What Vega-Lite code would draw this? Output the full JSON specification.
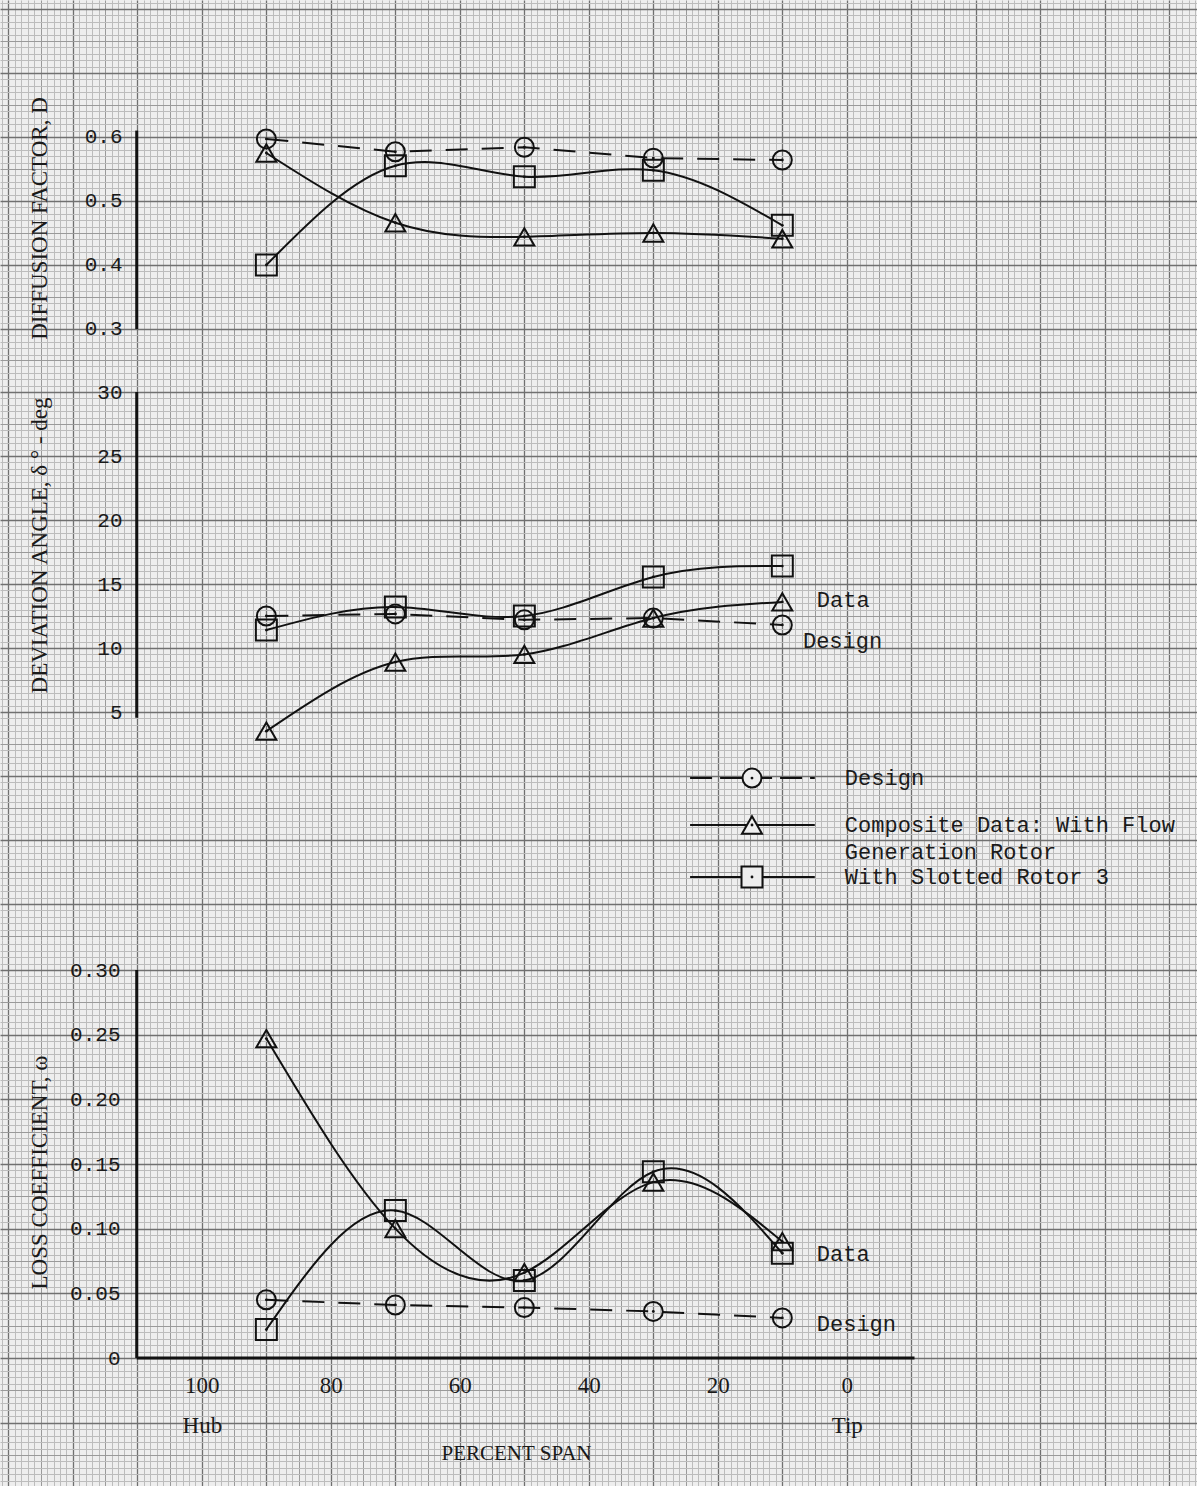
{
  "$schema": "https://vega.github.io/schema/vega-lite/v6.json",
  "padding": 0,
  "autosize": {"type": "pad"},
  "background": "#eeeeee",
  "spacing": 0,
  "bounds": "flush",
  "config": {
    "view": {"stroke": null},
    "axis": {"domain": false, "ticks": false, "tickSize": 0, "labelFont": "Liberation Mono", "labelColor": "#1a1a1a", "titleFont": "Liberation Serif", "titleFontSize": 23, "titleFontWeight": "normal", "titleColor": "#1a1a1a", "labelOverlap": false, "labelFlush": false, "gridOpacity": 1},
    "text": {"font": "Liberation Mono", "fontSize": 22, "color": "#1a1a1a"}
  },
  "datasets": {
    "pts": [
      {"panel": "D", "series": "Design", "span": 90, "value": 0.597},
      {"panel": "D", "series": "Design", "span": 70, "value": 0.577},
      {"panel": "D", "series": "Design", "span": 50, "value": 0.584},
      {"panel": "D", "series": "Design", "span": 30, "value": 0.567},
      {"panel": "D", "series": "Design", "span": 10, "value": 0.564},
      {"panel": "D", "series": "Composite", "span": 90, "value": 0.575},
      {"panel": "D", "series": "Composite", "span": 70, "value": 0.466},
      {"panel": "D", "series": "Composite", "span": 50, "value": 0.444},
      {"panel": "D", "series": "Composite", "span": 30, "value": 0.450},
      {"panel": "D", "series": "Composite", "span": 10, "value": 0.441},
      {"panel": "D", "series": "Slotted", "span": 90, "value": 0.400},
      {"panel": "D", "series": "Slotted", "span": 70, "value": 0.555},
      {"panel": "D", "series": "Slotted", "span": 50, "value": 0.538},
      {"panel": "D", "series": "Slotted", "span": 30, "value": 0.548},
      {"panel": "D", "series": "Slotted", "span": 10, "value": 0.462},
      {"panel": "dev", "series": "Design", "span": 90, "value": 12.5},
      {"panel": "dev", "series": "Design", "span": 70, "value": 12.66},
      {"panel": "dev", "series": "Design", "span": 50, "value": 12.2},
      {"panel": "dev", "series": "Design", "span": 30, "value": 12.34},
      {"panel": "dev", "series": "Design", "span": 10, "value": 11.8},
      {"panel": "dev", "series": "Composite", "span": 90, "value": 3.5},
      {"panel": "dev", "series": "Composite", "span": 70, "value": 8.9},
      {"panel": "dev", "series": "Composite", "span": 50, "value": 9.5},
      {"panel": "dev", "series": "Composite", "span": 30, "value": 12.34},
      {"panel": "dev", "series": "Composite", "span": 10, "value": 13.6},
      {"panel": "dev", "series": "Slotted", "span": 90, "value": 11.4},
      {"panel": "dev", "series": "Slotted", "span": 70, "value": 13.2},
      {"panel": "dev", "series": "Slotted", "span": 50, "value": 12.5},
      {"panel": "dev", "series": "Slotted", "span": 30, "value": 15.55},
      {"panel": "dev", "series": "Slotted", "span": 10, "value": 16.4},
      {"panel": "loss", "series": "Design", "span": 90, "value": 0.045},
      {"panel": "loss", "series": "Design", "span": 70, "value": 0.041},
      {"panel": "loss", "series": "Design", "span": 50, "value": 0.039},
      {"panel": "loss", "series": "Design", "span": 30, "value": 0.036},
      {"panel": "loss", "series": "Design", "span": 10, "value": 0.031},
      {"panel": "loss", "series": "Composite", "span": 90, "value": 0.247},
      {"panel": "loss", "series": "Composite", "span": 70, "value": 0.100},
      {"panel": "loss", "series": "Composite", "span": 50, "value": 0.066},
      {"panel": "loss", "series": "Composite", "span": 30, "value": 0.136},
      {"panel": "loss", "series": "Composite", "span": 10, "value": 0.090},
      {"panel": "loss", "series": "Slotted", "span": 90, "value": 0.022},
      {"panel": "loss", "series": "Slotted", "span": 70, "value": 0.114},
      {"panel": "loss", "series": "Slotted", "span": 50, "value": 0.060},
      {"panel": "loss", "series": "Slotted", "span": 30, "value": 0.144},
      {"panel": "loss", "series": "Slotted", "span": 10, "value": 0.081}
    ]
  },
  "vconcat": [
    {
      "width": 1197,
      "height": 360,
      "data": {"name": "pts"},
      "encoding": {
        "x": {"field": "span", "type": "quantitative", "scale": {"domain": [-54.3, 131.3], "reverse": true, "nice": false, "zero": false},
          "axis": {"title": null, "labels": false, "tickCount": 185, "grid": true,
            "gridColor": {"condition": [{"test": "datum.value % 10 === 0", "value": "#707070"}, {"test": "datum.value % 5 === 0", "value": "#9a9a9a"}], "value": "#bcbcbc"},
            "gridWidth": {"condition": {"test": "datum.value % 10 === 0", "value": 1.3}, "value": 1}}},
        "y": {"field": "value", "type": "quantitative", "scale": {"domain": [0.25156, 0.81406], "nice": false, "zero": false},
          "axis": {"offset": -137, "labelPadding": 15, "tickCount": 56,
            "labelExpr": "datum.value > 0.295 && datum.value < 0.605 && round(datum.value*100) % 10 === 0 ? format(datum.value, '.1f') : ''",
            "labelFontSize": {"condition": {"test": "datum.value > 0.295 && datum.value < 0.605 && round(datum.value*100) % 10 === 0", "value": 21}, "value": 0},
            "grid": true,
            "gridColor": {"condition": [{"test": "round(datum.value*100) % 10 === 0", "value": "#707070"}, {"test": "round(datum.value*100) % 5 === 0", "value": "#9a9a9a"}], "value": "#bcbcbc"},
            "gridWidth": {"condition": {"test": "round(datum.value*100) % 10 === 0", "value": 1.3}, "value": 1},
            "title": "DIFFUSION FACTOR, D", "titleX": -91, "titleY": 218, "titleAngle": 270, "titleAlign": "center", "titleBaseline": "alphabetic"}}
      },
      "layer": [
        {"transform": [{"filter": "datum.panel === 'D' && datum.series === 'Design'"}], "mark": {"type": "line", "strokeDash": [22, 14], "strokeWidth": 2, "color": "#111"}},
        {"transform": [{"filter": "datum.panel === 'D' && datum.series !== 'Design'"}], "mark": {"type": "line", "interpolate": "natural", "strokeWidth": 2, "color": "#111"}, "encoding": {"detail": {"field": "series"}}},
        {"transform": [{"filter": "datum.panel === 'D'"}], "mark": {"type": "point", "filled": false, "strokeWidth": 2, "color": "#111", "opacity": 1},
          "encoding": {"shape": {"field": "series", "type": "nominal", "scale": {"domain": ["Design", "Composite", "Slotted"], "range": ["circle", "triangle-up", "square"]}, "legend": null},
            "size": {"field": "series", "type": "nominal", "scale": {"domain": ["Design", "Composite", "Slotted"], "range": [360, 440, 340]}, "legend": null}}},
        {"transform": [{"filter": "datum.panel === 'D'"}], "mark": {"type": "point", "filled": true, "size": 8, "color": "#111", "shape": "circle", "opacity": 1}},
        {"data": {"values": [{"span": 110.1, "value": 0.3, "value2": 0.61}]}, "mark": {"type": "rule", "strokeWidth": 3, "color": "#111"}, "encoding": {"y2": {"field": "value2"}}}
      ]
    },
    {
      "width": 1197,
      "height": 580,
      "data": {"name": "pts"},
      "encoding": {
        "x": {"field": "span", "type": "quantitative", "scale": {"domain": [-54.3, 131.3], "reverse": true, "nice": false, "zero": false},
          "axis": {"title": null, "labels": false, "tickCount": 185, "grid": true,
            "gridColor": {"condition": [{"test": "datum.value % 10 === 0", "value": "#707070"}, {"test": "datum.value % 5 === 0", "value": "#9a9a9a"}], "value": "#bcbcbc"},
            "gridWidth": {"condition": {"test": "datum.value % 10 === 0", "value": 1.3}, "value": 1}}},
        "y": {"field": "value", "type": "quantitative", "scale": {"domain": [-12.8125, 32.5], "nice": false, "zero": false},
          "axis": {"offset": -137, "labelPadding": 15, "tickCount": 90,
            "labelExpr": "datum.value >= 5 && datum.value <= 30 && datum.value % 5 === 0 ? format(datum.value, 'd') : ''",
            "labelFontSize": {"condition": {"test": "datum.value >= 5 && datum.value <= 30 && datum.value % 5 === 0", "value": 21}, "value": 0},
            "grid": true,
            "gridColor": {"condition": [{"test": "datum.value % 5 === 0", "value": "#707070"}, {"test": "(datum.value*2) % 5 === 0", "value": "#9a9a9a"}], "value": "#bcbcbc"},
            "gridWidth": {"condition": {"test": "datum.value % 5 === 0", "value": 1.3}, "value": 1},
            "title": "DEVIATION ANGLE, δ ° - deg", "titleX": -91, "titleY": 185, "titleAngle": 270, "titleAlign": "center", "titleBaseline": "alphabetic"}}
      },
      "layer": [
        {"transform": [{"filter": "datum.panel === 'dev' && datum.series === 'Design'"}], "mark": {"type": "line", "strokeDash": [22, 14], "strokeWidth": 2, "color": "#111"}},
        {"transform": [{"filter": "datum.panel === 'dev' && datum.series !== 'Design'"}], "mark": {"type": "line", "interpolate": "natural", "strokeWidth": 2, "color": "#111"}, "encoding": {"detail": {"field": "series"}}},
        {"transform": [{"filter": "datum.panel === 'dev'"}], "mark": {"type": "point", "filled": false, "strokeWidth": 2, "color": "#111", "opacity": 1},
          "encoding": {"shape": {"field": "series", "type": "nominal", "scale": {"domain": ["Design", "Composite", "Slotted"], "range": ["circle", "triangle-up", "square"]}, "legend": null},
            "size": {"field": "series", "type": "nominal", "scale": {"domain": ["Design", "Composite", "Slotted"], "range": [360, 440, 340]}, "legend": null}}},
        {"transform": [{"filter": "datum.panel === 'dev'"}], "mark": {"type": "point", "filled": true, "size": 8, "color": "#111", "shape": "circle", "opacity": 1}},
        {"data": {"values": [{"span": 110.1, "value": 4.55, "value2": 30}]}, "mark": {"type": "rule", "strokeWidth": 3, "color": "#111"}, "encoding": {"y2": {"field": "value2"}}},
        {"data": {"values": [{"span": 4.65, "value": 13.75, "label": "Data"}, {"span": 6.8, "value": 10.55, "label": "Design"}]},
          "mark": {"type": "text", "align": "left", "baseline": "middle"}, "encoding": {"text": {"field": "label"}}},
        {"data": {"values": [
            {"series": "Design", "span": 24.3, "span2": 4.96, "value": -0.16},
            {"series": "Composite", "span": 24.3, "span2": 4.96, "value": -3.83},
            {"series": "Slotted", "span": 24.3, "span2": 4.96, "value": -7.89}]},
          "mark": {"type": "rule", "strokeWidth": 2, "color": "#111"},
          "encoding": {"x2": {"field": "span2"}, "strokeDash": {"field": "series", "type": "nominal", "scale": {"domain": ["Design", "Composite", "Slotted"], "range": [[22, 8], [1, 0], [1, 0]]}, "legend": null}}},
        {"data": {"values": [
            {"series": "Design", "span": 14.7, "value": -0.16},
            {"series": "Composite", "span": 14.7, "value": -3.83},
            {"series": "Slotted", "span": 14.7, "value": -7.89}]},
          "mark": {"type": "point", "filled": true, "fill": "#eeeeee", "stroke": "#111", "strokeWidth": 2, "opacity": 1},
          "encoding": {"shape": {"field": "series", "type": "nominal", "scale": {"domain": ["Design", "Composite", "Slotted"], "range": ["circle", "triangle-up", "square"]}, "legend": null},
            "size": {"field": "series", "type": "nominal", "scale": {"domain": ["Design", "Composite", "Slotted"], "range": [360, 440, 340]}, "legend": null}}},
        {"data": {"values": [
            {"series": "Design", "span": 14.7, "value": -0.16},
            {"series": "Composite", "span": 14.7, "value": -3.83},
            {"series": "Slotted", "span": 14.7, "value": -7.89}]},
          "mark": {"type": "point", "filled": true, "size": 8, "color": "#111", "shape": "circle", "opacity": 1}},
        {"data": {"values": [
            {"span": 0.3, "value": -0.16, "label": "Design"},
            {"span": 0.3, "value": -3.83, "label": "Composite Data: With Flow"},
            {"span": 0.3, "value": -5.94, "label": "Generation Rotor"},
            {"span": 0.3, "value": -7.89, "label": "With Slotted Rotor 3"}]},
          "mark": {"type": "text", "align": "left", "baseline": "middle"}, "encoding": {"text": {"field": "label"}}}
      ]
    },
    {
      "width": 1197,
      "height": 546,
      "data": {"name": "pts"},
      "encoding": {
        "x": {"field": "span", "type": "quantitative", "scale": {"domain": [-54.3, 131.3], "reverse": true, "nice": false, "zero": false},
          "axis": {"offset": -128, "tickCount": 185, "grid": true,
            "labelExpr": "datum.value >= 0 && datum.value <= 100 && datum.value % 20 === 0 ? (datum.value === 100 ? ['100', 'Hub'] : datum.value === 0 ? ['0', 'Tip'] : format(datum.value, 'd')) : ''",
            "labelFont": "Liberation Serif",
            "labelFontSize": {"condition": {"test": "datum.value >= 0 && datum.value <= 100 && datum.value % 20 === 0", "value": 23}, "value": 0},
            "labelPadding": 16, "labelLineHeight": 40, "labelBaseline": "top",
            "gridColor": {"condition": [{"test": "datum.value % 10 === 0", "value": "#707070"}, {"test": "datum.value % 5 === 0", "value": "#9a9a9a"}], "value": "#bcbcbc"},
            "gridWidth": {"condition": {"test": "datum.value % 10 === 0", "value": 1.3}, "value": 1},
            "title": "PERCENT SPAN", "titleX": 516, "titleY": 84, "titleBaseline": "top", "titleFontSize": 21}},
        "y": {"field": "value", "type": "quantitative", "scale": {"domain": [-0.09897, 0.3232], "nice": false, "zero": false},
          "axis": {"offset": -137, "labelPadding": 17, "tickCount": 84,
            "labelExpr": "datum.value > -0.001 && datum.value <= 0.301 && round(datum.value*1000) % 50 === 0 ? (round(datum.value*1000) === 0 ? '0' : format(datum.value, '.2f')) : ''",
            "labelFontSize": {"condition": {"test": "datum.value > -0.001 && datum.value <= 0.301 && round(datum.value*1000) % 50 === 0", "value": 21}, "value": 0},
            "grid": true,
            "gridColor": {"condition": [{"test": "round(datum.value*1000) % 50 === 0", "value": "#707070"}, {"test": "round(datum.value*1000) % 25 === 0", "value": "#9a9a9a"}], "value": "#bcbcbc"},
            "gridWidth": {"condition": {"test": "round(datum.value*1000) % 50 === 0", "value": 1.3}, "value": 1},
            "title": "LOSS COEFFICIENT, ω", "titleX": -91, "titleY": 232, "titleAngle": 270, "titleAlign": "center", "titleBaseline": "alphabetic"}}
      },
      "layer": [
        {"transform": [{"filter": "datum.panel === 'loss' && datum.series === 'Design'"}], "mark": {"type": "line", "strokeDash": [22, 14], "strokeWidth": 2, "color": "#111"}},
        {"transform": [{"filter": "datum.panel === 'loss' && datum.series !== 'Design'"}], "mark": {"type": "line", "interpolate": "natural", "strokeWidth": 2, "color": "#111"}, "encoding": {"detail": {"field": "series"}}},
        {"transform": [{"filter": "datum.panel === 'loss'"}], "mark": {"type": "point", "filled": false, "strokeWidth": 2, "color": "#111", "opacity": 1},
          "encoding": {"shape": {"field": "series", "type": "nominal", "scale": {"domain": ["Design", "Composite", "Slotted"], "range": ["circle", "triangle-up", "square"]}, "legend": null},
            "size": {"field": "series", "type": "nominal", "scale": {"domain": ["Design", "Composite", "Slotted"], "range": [360, 440, 340]}, "legend": null}}},
        {"transform": [{"filter": "datum.panel === 'loss'"}], "mark": {"type": "point", "filled": true, "size": 8, "color": "#111", "shape": "circle", "opacity": 1}},
        {"data": {"values": [{"span": 110.1, "value": 0, "value2": 0.3}]}, "mark": {"type": "rule", "strokeWidth": 3, "color": "#111"}, "encoding": {"y2": {"field": "value2"}}},
        {"data": {"values": [{"span": 110.1, "span2": -10.5, "value": 0}]}, "mark": {"type": "rule", "strokeWidth": 3, "color": "#111"}, "encoding": {"x2": {"field": "span2"}}},
        {"data": {"values": [{"span": 4.65, "value": 0.0804, "label": "Data"}, {"span": 4.65, "value": 0.0263, "label": "Design"}]},
          "mark": {"type": "text", "align": "left", "baseline": "middle"}, "encoding": {"text": {"field": "label"}}}
      ]
    }
  ]
}
